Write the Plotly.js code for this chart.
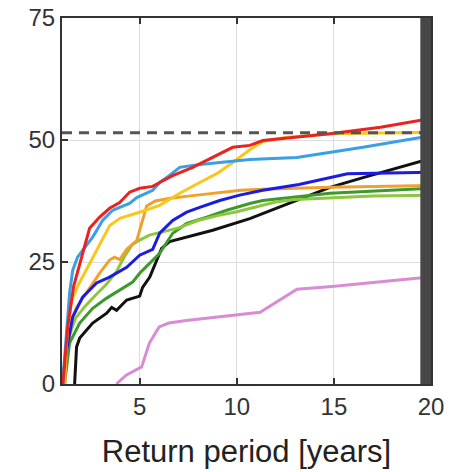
<!DOCTYPE html>
<html>
<head>
<meta charset="utf-8">
<script src="https://cdn.plot.ly/plotly-3.0.1.min.js"></script>
<style>html,body{margin:0;padding:0;background:#fff;}#chart{width:470px;height:472px;}</style>
</head>
<body>
<div id="chart"></div>
<script>
// Return period [years] vs value
const redX = [1.05, 1.3, 1.6, 2.01, 2.42, 2.94, 3.45, 3.97, 4.48, 5.0, 5.67, 6.03, 6.70, 7.73, 8.76, 9.79, 10.67, 11.34, 14.8, 17.4, 20];
const redY = [0, 12, 20, 26.0, 31.9, 34.2, 36.0, 37.2, 39.3, 40.1, 40.5, 41.3, 42.7, 44.4, 46.4, 48.5, 48.9, 49.9, 51.3, 52.6, 54.4];

const lightBlueX = [1.03, 1.24, 1.39, 1.55, 1.80, 2.06, 2.58, 3.09, 3.61, 3.97, 4.48, 4.85, 5.15, 5.67, 6.03, 6.39, 7.06, 7.73, 9.12, 10.67, 13.09, 16.5, 20];
const lightBlueY = [0, 10.4, 18.6, 23.3, 26.0, 27.4, 30.1, 33.5, 35.6, 36.2, 37.0, 38.2, 38.7, 39.7, 41.3, 42.3, 44.4, 44.8, 45.4, 46.0, 46.4, 48.5, 50.9];

const yellowX = [1.1, 1.3, 1.5, 1.8, 2.2, 2.6, 3.0, 3.46, 4.0, 5.0, 6.03, 7.06, 8.09, 8.97, 9.79, 10.67, 11.34, 12.5, 14.8, 20];
const yellowY = [0, 12, 17, 20, 23, 26, 29, 32.5, 34, 35.2, 36.6, 39.1, 41.3, 43.1, 45.4, 48.0, 49.7, 50.5, 51.3, 51.6];

const orangeX = [1.15, 1.25, 1.75, 2.42, 2.94, 3.45, 3.7, 3.97, 4.33, 4.85, 5.1, 5.36, 5.8, 6.5, 7.5, 9.0, 10.2, 11.3, 14.8, 20];
const orangeY = [0, 11, 15.7, 19.8, 22.7, 25.4, 26.0, 25.5, 27.6, 29.4, 33.0, 36.5, 37.5, 38.0, 38.5, 39.2, 39.7, 39.9, 40.3, 40.7];

const blueX = [1.0, 1.24, 1.55, 2.06, 2.78, 3.45, 4.33, 5.0, 5.67, 6.03, 6.70, 7.42, 8.09, 9.12, 10.15, 11.34, 13.2, 15.7, 20];
const blueY = [0, 7, 13.7, 17.8, 20.7, 21.9, 23.9, 26.4, 27.6, 30.9, 33.5, 35.2, 36.2, 37.6, 38.7, 39.7, 40.9, 43.1, 43.4];

const lightGreenX = [1.05, 1.3, 1.7, 2.2, 2.8, 3.3, 3.8, 4.2, 4.6, 5.0, 5.5, 6.0, 7.0, 8.0, 9.0, 10.0, 11.0, 12.0, 13.0, 15.0, 17.0, 20];
const lightGreenY = [0, 9, 13.5, 16, 18.5, 20.5, 23, 26, 28.5, 29.5, 30.5, 31, 32, 33.5, 34.5, 35.3, 36.3, 37.3, 37.8, 38.2, 38.5, 38.7];

const greenX = [1.13, 1.39, 1.91, 2.58, 3.30, 3.97, 4.64, 5.0, 5.52, 6.03, 6.70, 7.42, 8.45, 9.48, 10.67, 11.34, 14.8, 20];
const greenY = [0, 8.4, 12.5, 15.5, 17.6, 19.2, 20.9, 22.7, 24.7, 26.8, 30.9, 32.9, 34.2, 35.6, 37.0, 37.6, 39.1, 40.1];

const blackX = [1.65, 1.75, 1.91, 2.58, 3.30, 3.56, 3.81, 4.33, 5.0, 5.15, 5.52, 5.88, 6.13, 6.54, 7.42, 8.76, 10.67, 13.09, 14.8, 16.5, 20];
const blackY = [0, 7.6, 9.4, 12.5, 14.5, 15.7, 15.1, 17.2, 18.0, 19.8, 21.9, 25.4, 27.8, 29.2, 30.1, 31.5, 33.9, 37.6, 40.3, 42.3, 46.2];

const violetX = [3.8, 4.3, 5.1, 5.5, 6.0, 6.5, 7.4, 9.8, 11.2, 13.1, 14.9, 19.4, 20];
const violetY = [0, 1.8, 3.5, 8.4, 11.7, 12.5, 13.0, 14.0, 14.7, 19.4, 20.0, 21.7, 21.9];

const thresholdY = 51.5;
const shadedX = [19.45, 20];
const xTicks = [5, 10, 15, 20];
const yTicks = [0, 25, 50, 75];

const series = [
  {x: violetX, y: violetY, color: '#d98bd6'},
  {x: blackX, y: blackY, color: '#111111'},
  {x: greenX, y: greenY, color: '#3c9a2c'},
  {x: lightGreenX, y: lightGreenY, color: '#8dc63f'},
  {x: orangeX, y: orangeY, color: '#f0a02c'},
  {x: blueX, y: blueY, color: '#1c1ce0'},
  {x: yellowX, y: yellowY, color: '#f8c71a'},
  {x: lightBlueX, y: lightBlueY, color: '#3a9fe6'},
  {x: redX, y: redY, color: '#ea2320'}
];

const traces = series.map(s => ({
  type: 'scatter', mode: 'lines', x: s.x, y: s.y,
  line: {color: s.color, width: 3}, hoverinfo: 'skip', showlegend: false
}));
traces.push({
  type: 'scatter', mode: 'lines', x: [1, 20], y: [thresholdY, thresholdY],
  line: {color: '#555555', width: 3, dash: '10px,7px'}, showlegend: false
});

const tickFont = {family: 'Liberation Sans, Arial, sans-serif', size: 24, color: '#333333'};

const layout = {
  width: 470, height: 472,
  margin: {l: 62, r: 39, t: 18, b: 88},
  paper_bgcolor: '#ffffff', plot_bgcolor: '#ffffff',
  showlegend: false,
  xaxis: {
    range: [1, 20], tickvals: xTicks, ticktext: xTicks.map(String),
    showgrid: true, gridcolor: '#dddddd', gridwidth: 1, zeroline: false,
    ticks: 'inside', ticklen: 6, tickwidth: 2, tickcolor: '#333333',
    showline: true, linecolor: '#333333', linewidth: 2, mirror: 'ticks',
    tickfont: tickFont,
    title: {text: 'Return period [years]', font: {family: 'Liberation Sans, Arial, sans-serif', size: 31, color: '#222222'}, standoff: 22}
  },
  yaxis: {
    range: [0, 75], tickvals: yTicks, ticktext: yTicks.map(String),
    showgrid: true, gridcolor: '#dddddd', gridwidth: 1, zeroline: false,
    ticks: 'inside', ticklen: 6, tickwidth: 2, tickcolor: '#333333',
    showline: true, linecolor: '#333333', linewidth: 2, mirror: 'ticks',
    tickfont: tickFont
  },
  shapes: [{
    type: 'rect', xref: 'x', yref: 'y', x0: shadedX[0], x1: shadedX[1], y0: 0, y1: 75,
    fillcolor: '#474747', line: {width: 0}, layer: 'above'
  }]
};

Plotly.newPlot('chart', traces, layout, {staticPlot: true, displayModeBar: false});
</script>
</body>
</html>
